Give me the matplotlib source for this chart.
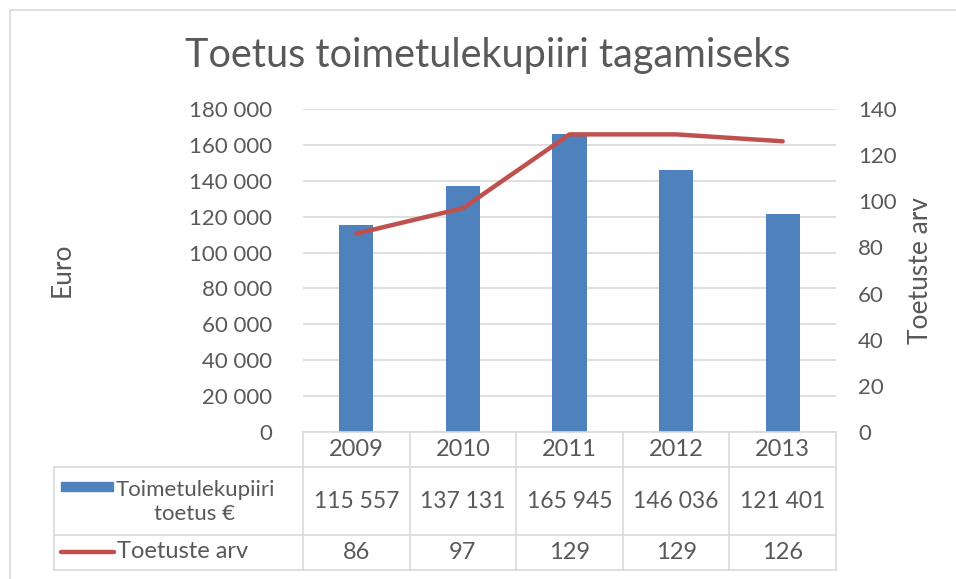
import matplotlib.pyplot as plt
from matplotlib.lines import Line2D
from matplotlib.patches import Rectangle

years = ['2009', '2010', '2011', '2012', '2013']
toetus = [115557, 137131, 165945, 146036, 121401]
arv = [86, 97, 129, 129, 126]
toetus_labels = ['115 557', '137 131', '165 945', '146 036', '121 401']
arv_labels = ['86', '97', '129', '129', '126']

plt.rcParams['font.family'] = ['Lato', 'DejaVu Sans']
txt = '#595959'
grid = '#D9D9D9'
bar_c = '#4F81BD'
line_c = '#C0504D'

W, H = 956, 579
fig = plt.figure(figsize=(W / 100, H / 100), dpi=100)

def fx(px):
    return px / W

def fy(py):
    return 1 - py / H

# plot area
left, right, top, bottom = 303, 836, 109, 432
ax = fig.add_axes([fx(left), fy(bottom), fx(right - left), fy(top) - fy(bottom)])
x = list(range(len(years)))
ax.bar(x, toetus, width=0.32, color=bar_c, zorder=2)
ax.set_xlim(-0.5, 4.5)
ax.set_ylim(0, 180000)
ax.set_yticks(range(0, 180001, 20000))
ax.set_yticklabels([f'{v:,}'.replace(',', ' ') for v in range(0, 180001, 20000)])
ax.yaxis.grid(True, color=grid, linewidth=1.2, zorder=0)
ax.set_xticks([])
for s in ax.spines.values():
    s.set_visible(False)
ax.tick_params(axis='y', length=0, labelsize=16, labelcolor=txt, pad=22)

ax2 = ax.twinx()
ax2.plot(x, arv, color=line_c, linewidth=3.2, solid_capstyle='round', zorder=3)
ax2.set_ylim(0, 140)
ax2.set_yticks(range(0, 141, 20))
for s in ax2.spines.values():
    s.set_visible(False)
ax2.tick_params(axis='y', length=0, labelsize=16, labelcolor=txt, pad=16)

fig.text(fx(488), fy(55), 'Toetus toimetulekupiiri tagamiseks', ha='center', va='center',
         fontsize=28.5, color=txt)
fig.text(fx(62), fy(270), 'Euro', rotation=90, ha='center', va='center', fontsize=19, color=txt)
fig.text(fx(920), fy(270), 'Toetuste arv', rotation=90, ha='center', va='center', fontsize=19, color=txt)

# data table
col_w = (right - left) / len(years)
tleft = 54
r0, r1, r2, r3 = 432, 467, 535, 570
def hline(y, x0, x1):
    fig.add_artist(Line2D([fx(x0), fx(x1)], [fy(y), fy(y)], color=grid, linewidth=1.2))
def vline(xp, y0, y1):
    fig.add_artist(Line2D([fx(xp), fx(xp)], [fy(y0), fy(y1)], color=grid, linewidth=1.2))

hline(r0, left, right)
hline(r1, tleft, right)
hline(r2, tleft, right)
hline(r3, tleft, right)
vline(tleft, r1, r3)
for i in range(len(years) + 1):
    vline(left + i * col_w, r0, r3)

for i, yr in enumerate(years):
    cx = fx(left + (i + 0.5) * col_w)
    fig.text(cx, fy((r0 + r1) / 2), yr, ha='center', va='center', fontsize=17, color=txt)
    fig.text(cx, fy((r1 + r2) / 2), toetus_labels[i], ha='center', va='center', fontsize=16.5, color=txt)
    fig.text(cx, fy((r2 + r3) / 2), arv_labels[i], ha='center', va='center', fontsize=17, color=txt)

fig.add_artist(Rectangle((fx(61), fy(491)), fx(52), fy(482) - fy(491), color=bar_c))
fig.text(fx(195), fy(502), 'Toimetulekupiiri\ntoetus €', ha='center', va='center',
         fontsize=16, color=txt, linespacing=1.3)
fig.add_artist(Line2D([fx(61), fx(114)], [fy(552), fy(552)], color=line_c, linewidth=3.2,
                      solid_capstyle='round'))
fig.text(fx(117), fy(552), 'Toetuste arv', ha='left', va='center', fontsize=17, color=txt)

# outer frame
fig.add_artist(Rectangle((fx(10), fy(590)), fx(960) - fx(10), fy(10) - fy(590), fill=False,
                         edgecolor=grid, linewidth=1.2))

fig.savefig('out.png', dpi=100)
